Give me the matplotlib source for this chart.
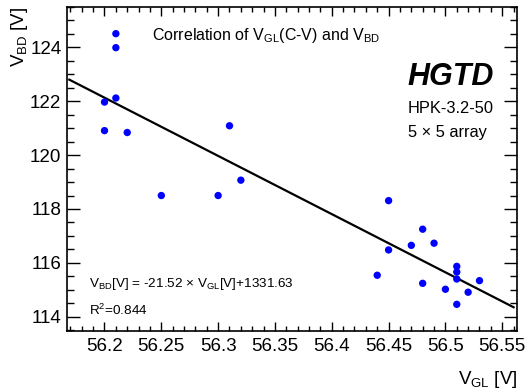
import numpy as np
import matplotlib
matplotlib.use("Agg")
import matplotlib.pyplot as plt
from matplotlib.ticker import MultipleLocator, FuncFormatter

plt.rcParams['font.family'] = ['Liberation Sans', 'DejaVu Sans']
plt.rcParams['mathtext.fontset'] = 'custom'
plt.rcParams['mathtext.rm'] = 'Liberation Sans'
plt.rcParams['mathtext.it'] = 'Liberation Sans:italic'
plt.rcParams['mathtext.bf'] = 'Liberation Sans:bold'

# V_GL from C-V [V] and breakdown voltage V_BD [V], one entry per pad
v_gl = [56.21, 56.21, 56.21, 56.20, 56.20, 56.22, 56.31, 56.32, 56.25, 56.30,
        56.45, 56.48, 56.47, 56.49, 56.45, 56.44, 56.51, 56.51, 56.51, 56.53,
        56.48, 56.50, 56.52, 56.51]
v_bd = [124.51, 123.99, 122.12, 121.97, 120.91, 120.84, 121.09, 119.07, 118.50, 118.50,
        118.31, 117.25, 116.65, 116.73, 116.48, 115.54, 115.87, 115.66, 115.40, 115.34,
        115.24, 115.02, 114.91, 114.46]

# linear fit quoted on the plot
slope = -21.52
intercept = 1331.63
r2 = 0.844

xlim = (56.167, 56.563)
ylim = (113.47, 125.5)
fit_range = (56.169, 56.560)

fig = plt.figure(figsize=(5.25, 3.92), dpi=100)
ax = fig.add_axes([67/525, 1-331/392, 450/525, 324/392])

ax.scatter(v_gl, v_bd, s=28, color='#0000ff', edgecolors='none', zorder=3)
# line from a fit of the plotted points
p = np.polyfit(v_gl, v_bd, 1)
xf = np.array(fit_range)
ax.plot(xf, np.polyval(p, xf), color='black', lw=1.6, zorder=2)

ax.set_xlim(*xlim)
ax.set_ylim(*ylim)

ax.xaxis.set_major_locator(MultipleLocator(0.05))
ax.xaxis.set_minor_locator(MultipleLocator(0.01))
ax.yaxis.set_major_locator(MultipleLocator(2))
ax.yaxis.set_minor_locator(MultipleLocator(0.5))
ax.xaxis.set_major_formatter(FuncFormatter(lambda v, pos: '%g' % round(v, 2)))
ax.yaxis.set_major_formatter(FuncFormatter(lambda v, pos: '%g' % v))

ax.tick_params(axis='both', which='both', direction='in', top=True, right=True,
               labelsize=13.5, width=1.0, color='black')
ax.tick_params(axis='x', which='major', length=6.5, pad=5)
ax.tick_params(axis='x', which='minor', length=3.3)
ax.tick_params(axis='y', which='major', length=9.5, pad=4)
ax.tick_params(axis='y', which='minor', length=5)
for sp in ax.spines.values():
    sp.set_linewidth(1.2)

fig.text(20/525, 1-7/392, r'V$_{\rm BD}$ [V]', rotation=90, ha='center', va='top', fontsize=13.5)
fig.text(517/525, 1-384/392, r'V$_{\rm GL}$ [V]', ha='right', va='baseline', fontsize=13.5)

ax.text(0.189, 0.898, r'Correlation of V$_{\rm GL}$(C-V) and V$_{\rm BD}$',
        transform=ax.transAxes, fontsize=11.5, va='baseline')
ax.text(0.948, 0.759, 'HGTD', transform=ax.transAxes, fontsize=22,
        fontweight='bold', fontstyle='italic', ha='right', va='baseline')
ax.text(0.757, 0.673, 'HPK-3.2-50', transform=ax.transAxes, fontsize=11.8, va='baseline')
ax.text(0.757, 0.599, '5 \u00d7 5 array', transform=ax.transAxes, fontsize=11.8, va='baseline')
ax.text(0.049, 0.136, r'V$_{\rm BD}$[V] = -21.52 $\times$ V$_{\rm GL}$[V]+1331.63',
        transform=ax.transAxes, fontsize=9.7, va='baseline')
ax.text(0.049, 0.049, r'R$^{2}$=%.3f' % r2, transform=ax.transAxes, fontsize=9.7, va='baseline')

fig.savefig('out.png', dpi=100)
